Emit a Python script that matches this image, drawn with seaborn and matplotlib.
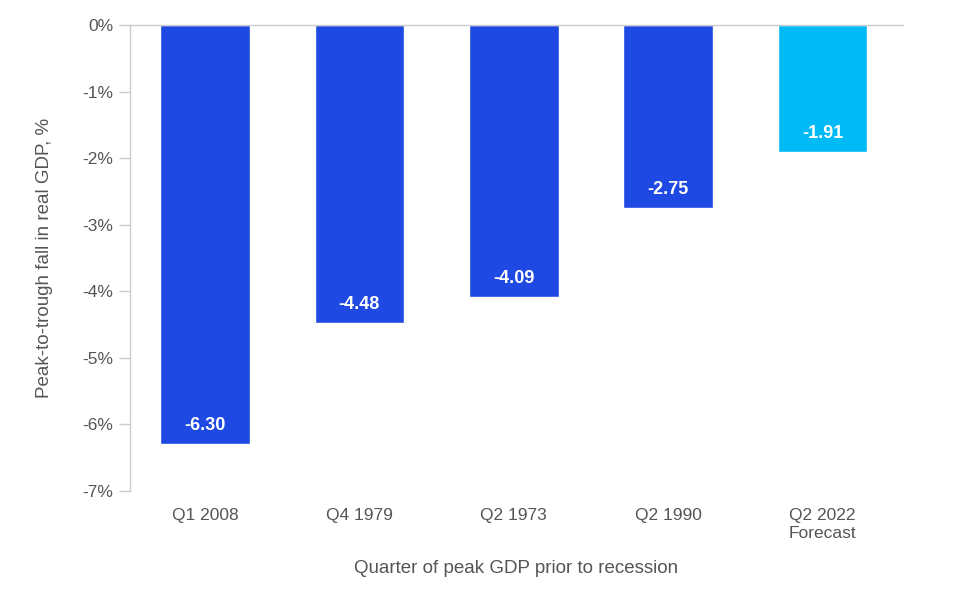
import matplotlib
matplotlib.use("Agg")
import matplotlib.pyplot as plt
import seaborn as sns
import pandas as pd

categories = ["Q1 2008", "Q4 1979", "Q2 1973", "Q2 1990", "Q2 2022\nForecast"]
values = [-6.30, -4.48, -4.09, -2.75, -1.91]
bar_colors = ["#1E49E2", "#1E49E2", "#1E49E2", "#1E49E2", "#00BAF6"]
yticks = [0, -1, -2, -3, -4, -5, -6, -7]
ytick_labels = ["0%", "-1%", "-2%", "-3%", "-4%", "-5%", "-6%", "-7%"]

sns.set_theme(style="white")
plt.rcParams['font.family'] = ['Liberation Sans', 'DejaVu Sans']

df = pd.DataFrame({"cat": categories, "val": values})

fig = plt.figure(figsize=(9.6, 5.93), dpi=100)
ax = fig.add_axes([130/960, 1-491/593, (903-130)/960, (491-25)/593])

sns.barplot(data=df, x="cat", y="val", hue="cat", palette=bar_colors,
            width=0.58, legend=False, ax=ax, saturation=1)

for i, v in enumerate(values):
    ax.text(i, v + 0.28, f"{v:.2f}", ha="center", va="center",
            color="white", fontsize=13, fontweight="bold")

ax.set_ylim(-7, 0)
ax.set_xlim(-0.485, 4.52)
ax.set_yticks(yticks)
ax.set_yticklabels(ytick_labels)
ax.tick_params(axis="y", left=True, length=8, width=1, color="#cccccc",
               labelcolor="#555555", labelsize=12.5, pad=4)
ax.tick_params(axis="x", length=0, labelcolor="#555555", labelsize=12.5, pad=12)
for lab in ax.get_xticklabels():
    lab.set_linespacing(1.25)

for s in ["right", "bottom"]:
    ax.spines[s].set_visible(False)
for s in ["top", "left"]:
    ax.spines[s].set_color("#cccccc")
    ax.spines[s].set_linewidth(1)

ax.set_xlabel("Quarter of peak GDP prior to recession", color="#555555", fontsize=13.5, labelpad=14)
ax.set_ylabel("Peak-to-trough fall in real GDP, %", color="#555555", fontsize=13.5, labelpad=21)

fig.savefig("out.png", dpi=100)
